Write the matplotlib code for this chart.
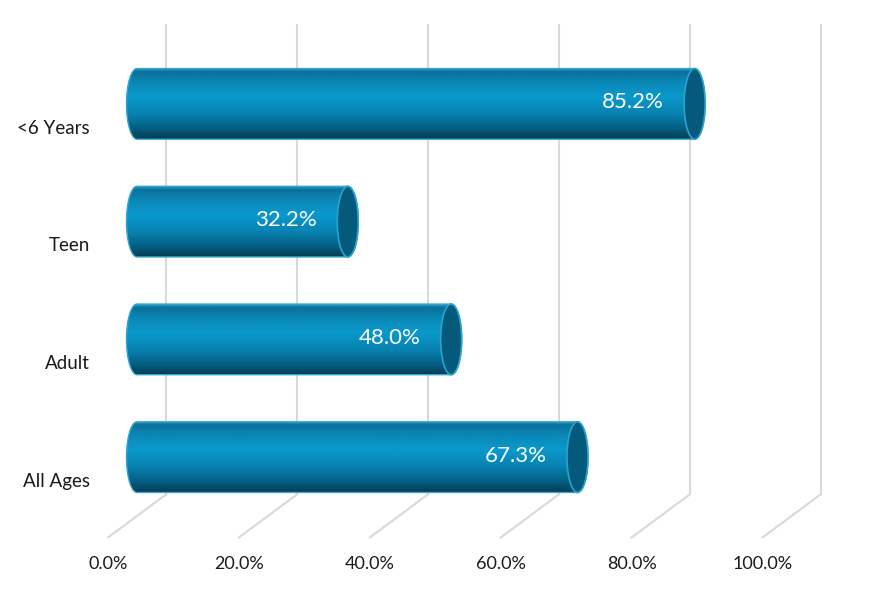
import numpy as np
import matplotlib
matplotlib.use('Agg')
import matplotlib.pyplot as plt
from matplotlib.patches import Ellipse, PathPatch
from matplotlib.path import Path
from matplotlib.colors import LinearSegmentedColormap

categories = ['All Ages', 'Adult', 'Teen', '<6 Years']
values = [67.3, 48.0, 32.2, 85.2]
tick_values = [0, 20, 40, 60, 80, 100]
tick_labels = ['0.0%', '20.0%', '40.0%', '60.0%', '80.0%', '100.0%']

plt.rcParams['font.family'] = ['Lato', 'DejaVu Sans']

W, H = 876, 589
fig = plt.figure(figsize=(W / 100, H / 100), dpi=100)
# pixel geometry of the mid-depth plane
left_px, right_px = 137, 791.5
top_px, bottom_px = 45, 516
ncat = len(categories)
pxx = (right_px - left_px) / 100.0
pxy = (bottom_px - top_px) / ncat
ax = fig.add_axes([0, 0, 1, 1])
ax.set_xlim(-left_px / pxx, (W - left_px) / pxx)
ax.set_ylim(-0.5 - (H - bottom_px) / pxy, ncat - 0.5 + top_px / pxy)
ax.axis('off')

depth_x, depth_y = 29.0, 21.5
dx = depth_x / pxx
dy = depth_y / pxy
y0, y1 = -0.5, ncat - 0.5

grid_color = '#d9d9d9'
for v in tick_values:
    ax.plot([v + dx, v + dx], [y0 + dy, y1 + dy], color=grid_color, lw=1.5,
            zorder=1, solid_capstyle='butt')
    ax.plot([v + dx, v - dx], [y0 + dy, y0 - dy], color=grid_color, lw=1.5,
            zorder=1)

for v, lab in zip(tick_values, tick_labels):
    ax.annotate(lab, xy=(v - dx, y0 - dy), xytext=(0, -19),
                textcoords='offset points', ha='center', va='center',
                fontsize=13, color='#1a1a1a')

for i, c in enumerate(categories):
    ax.annotate(c, xy=(-dx, i - dy), xytext=(-13, -2),
                textcoords='offset points', ha='right', va='center',
                fontsize=13.5, color='#1a1a1a')

cmap = LinearSegmentedColormap.from_list('cyl', [
    (0.0, '#033c51'), (0.12, '#04587a'), (0.35, '#0782b0'),
    (0.6, '#0a99cc'), (0.8, '#0a88b6'), (0.95, '#0a7097'), (1.0, '#2a9fcc')])
grad = np.linspace(0, 1, 256).reshape(-1, 1)

bar_h = 0.6
a = 10.5 / pxx
for i, v in enumerate(values):
    yc = i
    hh = bar_h / 2
    tl = np.linspace(np.pi / 2, 3 * np.pi / 2, 60)
    tr = np.linspace(-np.pi / 2, np.pi / 2, 60)
    xs = np.concatenate([a * np.cos(tl), v + a * np.cos(tr)])
    ys = np.concatenate([yc + hh * np.sin(tl), yc + hh * np.sin(tr)])
    verts = np.column_stack([xs, ys])
    verts = np.vstack([verts, verts[:1]])
    path = Path(verts)
    im = ax.imshow(grad, cmap=cmap, origin='lower', aspect='auto',
                   extent=[-a, v + a, yc - hh, yc + hh], zorder=3,
                   interpolation='bilinear')
    clip = PathPatch(path, transform=ax.transData, facecolor='none', edgecolor='none')
    ax.add_patch(clip)
    im.set_clip_path(clip)
    outline = PathPatch(path, facecolor='none', edgecolor='#35a6d2', lw=1.0, zorder=4)
    ax.add_patch(outline)
    cap = Ellipse((v, yc), 2 * a, bar_h, facecolor='#05597a', edgecolor='#2aa3cf',
                  lw=1.2, zorder=5)
    ax.add_patch(cap)
    ax.annotate(f'{v:.1f}%', xy=(v, yc), xytext=(-22, 1), textcoords='offset points',
                ha='right', va='center', color='white', fontsize=16, zorder=6)

fig.savefig('out.png', dpi=100)
